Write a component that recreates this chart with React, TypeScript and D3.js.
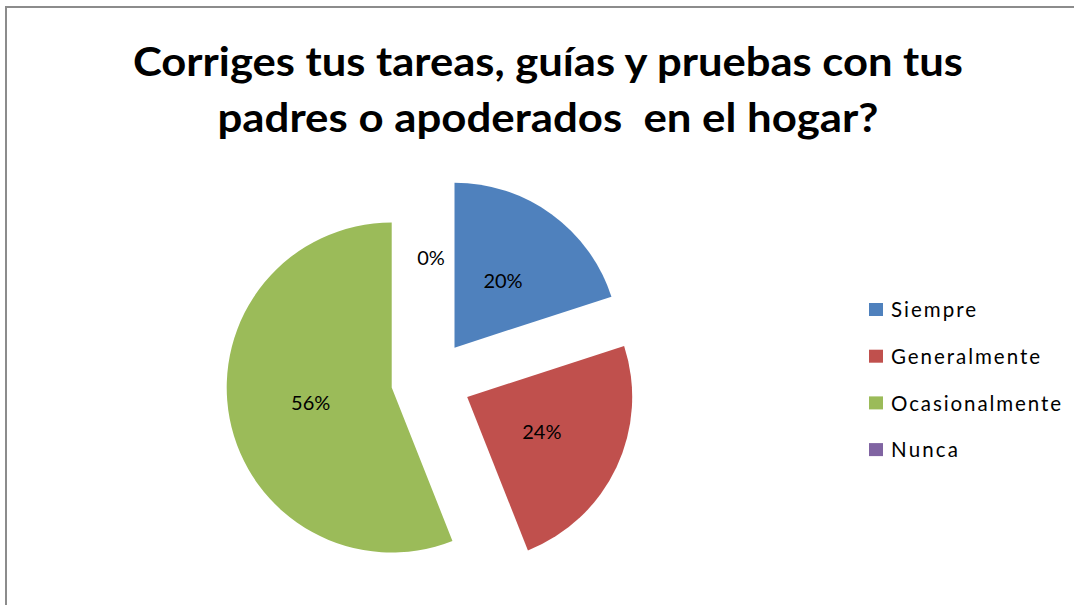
import React, { useRef, useEffect } from "react";
import * as d3 from "d3";

// Data
const categories: string[] = ["Siempre", "Generalmente", "Ocasionalmente", "Nunca"];
const values: number[] = [20, 24, 56, 0];
const colors: string[] = ["#4F81BD", "#C0504D", "#9BBB59", "#8064A2"];
const titleLines: string[] = [
  "Corriges tus tareas, guías y pruebas con tus",
  "padres o apoderados  en el hogar?",
];

interface Slice {
  name: string;
  value: number;
  color: string;
}

const App: React.FC = () => {
  const svgRef = useRef<SVGSVGElement | null>(null);

  useEffect(() => {
    const width = 1074;
    const height = 605;
    const data: Slice[] = categories.map((c, i) => ({ name: c, value: values[i], color: colors[i] }));

    const svg = d3.select(svgRef.current).attr("width", width).attr("height", height);
    svg.selectAll("*").remove();

    svg.append("rect").attr("width", width).attr("height", height).attr("fill", "#fff");

    // chart frame (only top and left edges visible)
    svg
      .append("path")
      .attr("d", `M6,${height} L6,7 L${width},7`)
      .attr("fill", "none")
      .attr("stroke", "#8c8c8c")
      .attr("stroke-width", 2);

    // Title
    const titleWidths = [830, 661];
    svg
      .append("g")
      .selectAll("text")
      .data(titleLines)
      .join("text")
      .attr("x", 548)
      .attr("y", (_, i) => 76 + i * 56)
      .attr("text-anchor", "middle")
      .attr("textLength", (_, i) => titleWidths[i])
      .attr("lengthAdjust", "spacingAndGlyphs")
      .style("white-space", "pre")
      .style("font-family", "Lato, 'DejaVu Sans', sans-serif")
      .style("font-weight", "bold")
      .style("font-size", "41px")
      .style("fill", "#000")
      .text((d) => d);

    // Pie
    const cx = 431;
    const cy = 380;
    const radius = 165;
    const explode = 40;

    const pie = d3
      .pie<Slice>()
      .value((d) => d.value)
      .sort(null)
      .startAngle(0)
      .endAngle(2 * Math.PI);

    const arcs = pie(data);
    const arc = d3.arc<d3.PieArcDatum<Slice>>().innerRadius(0).outerRadius(radius);

    const g = svg.append("g").attr("transform", `translate(${cx},${cy})`);

    const offset = (d: d3.PieArcDatum<Slice>) => {
      const a = (d.startAngle + d.endAngle) / 2;
      return [explode * Math.sin(a), -explode * Math.cos(a)];
    };

    g.selectAll("path.slice")
      .data(arcs)
      .join("path")
      .attr("class", "slice")
      .attr("transform", (d) => `translate(${offset(d).join(",")})`)
      .attr("d", (d) => (d.value > 0 ? arc(d) : null))
      .attr("fill", (d) => d.data.color);

    // Labels
    g.selectAll("text.lbl")
      .data(arcs)
      .join("text")
      .attr("class", "lbl")
      .attr("x", (d) => {
        const a = (d.startAngle + d.endAngle) / 2;
        return offset(d)[0] + radius * 0.5 * Math.sin(a);
      })
      .attr("y", (d) => {
        const a = (d.startAngle + d.endAngle) / 2;
        return offset(d)[1] - radius * 0.5 * Math.cos(a);
      })
      .attr("dy", "0.35em")
      .attr("text-anchor", "middle")
      .style("font-family", "Lato, 'DejaVu Sans', sans-serif")
      .style("font-size", "20px")
      .style("fill", "#000")
      .text((d) => `${d.value}%`);

    // Legend
    const legendWidths = [85, 149, 170, 67];
    const legend = svg.append("g").attr("transform", "translate(869,310)");
    const rows = legend
      .selectAll("g")
      .data(data)
      .join("g")
      .attr("transform", (_, i) => `translate(0,${i * 46.7})`);
    rows
      .append("rect")
      .attr("x", 0)
      .attr("y", -7)
      .attr("width", 14)
      .attr("height", 13)
      .attr("fill", (d) => d.color);
    rows
      .append("text")
      .attr("x", 22)
      .attr("y", 0)
      .attr("dy", "0.35em")
      .attr("textLength", (_, i) => legendWidths[i])
      .attr("lengthAdjust", "spacing")
      .style("font-family", "Lato, 'DejaVu Sans', sans-serif")
      .style("font-size", "20.5px")
      .style("fill", "#000")
      .text((d) => d.name);
  }, []);

  return (
    <div style={{ position: "fixed", left: 0, top: 0 }}>
      <svg ref={svgRef} style={{ display: "block" }}></svg>
    </div>
  );
};

export default App;
